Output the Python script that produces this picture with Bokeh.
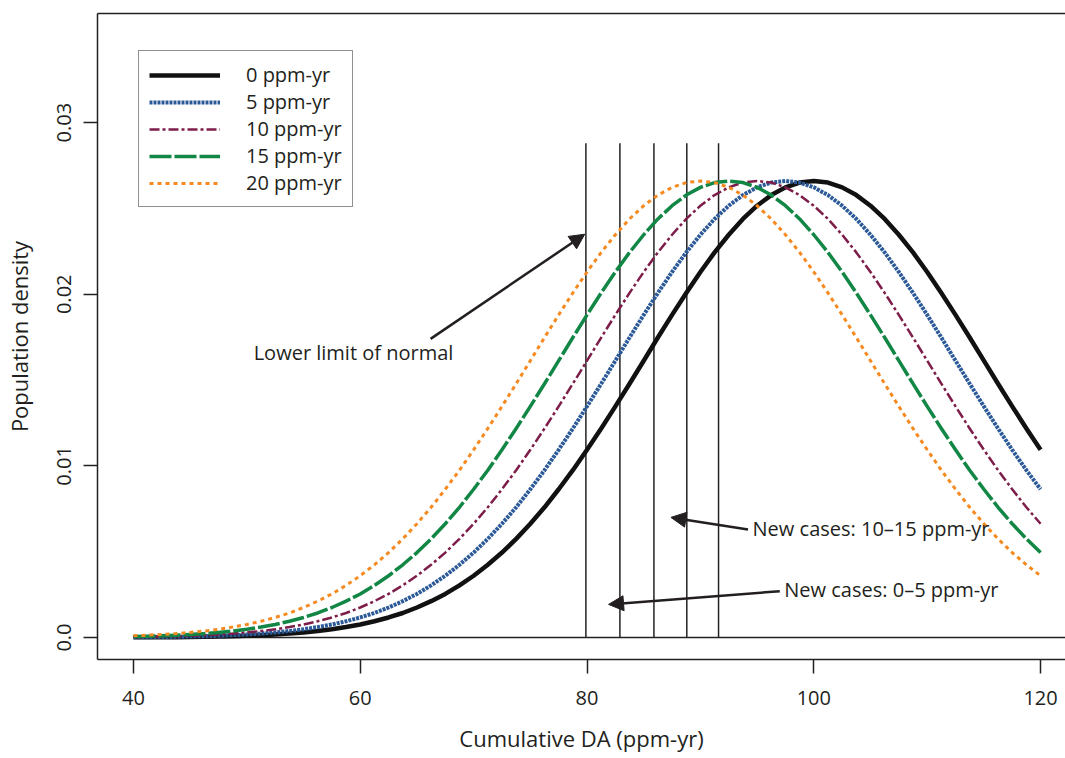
from bokeh.plotting import figure
from bokeh.models import (Range1d, FixedTicker, LinearAxis, Legend, LegendItem,
                          Arrow, NormalHead, Label)
from bokeh.embed import file_html
from bokeh.resources import INLINE

# ---------------- data ----------------
da_x = [40.0, 41.25, 42.5, 43.75, 45.0, 46.25, 47.5, 48.75, 50.0, 51.25, 52.5, 53.75,
        55.0, 56.25, 57.5, 58.75, 60.0, 61.25, 62.5, 63.75, 65.0, 66.25, 67.5, 68.75,
        70.0, 71.25, 72.5, 73.75, 75.0, 76.25, 77.5, 78.75, 80.0, 81.25, 82.5, 83.75,
        85.0, 86.25, 87.5, 88.75, 90.0, 91.25, 92.5, 93.75, 95.0, 96.25, 97.5, 98.75,
        100.0, 101.25, 102.5, 103.75, 105.0, 106.25, 107.5, 108.75, 110.0, 111.25,
        112.5, 113.75, 115.0, 116.25, 117.5, 118.75, 120.0]

dens_0 = [0.00001, 0.00001, 0.00002, 0.00002, 0.00003, 0.00004, 0.00006, 0.00008,
          0.00010, 0.00014, 0.00018, 0.00023, 0.00030, 0.00038, 0.00048, 0.00061,
          0.00076, 0.00095, 0.00117, 0.00143, 0.00175, 0.00212, 0.00254, 0.00304,
          0.00360, 0.00424, 0.00495, 0.00575, 0.00663, 0.00759, 0.00864, 0.00975,
          0.01094, 0.01218, 0.01347, 0.01479, 0.01613, 0.01748, 0.01880, 0.02008,
          0.02130, 0.02244, 0.02347, 0.02439, 0.02516, 0.02578, 0.02623, 0.02651,
          0.02660,
          0.02651, 0.02623, 0.02578, 0.02516, 0.02439, 0.02347, 0.02244, 0.02130,
          0.02008, 0.01880, 0.01748, 0.01613, 0.01479, 0.01347, 0.01218, 0.01094]

dens_5 = [0.00002, 0.00002, 0.00003, 0.00004, 0.00006, 0.00008,
          0.00010, 0.00014, 0.00018, 0.00023, 0.00030, 0.00038, 0.00048, 0.00061,
          0.00076, 0.00095, 0.00117, 0.00143, 0.00175, 0.00212, 0.00254, 0.00304,
          0.00360, 0.00424, 0.00495, 0.00575, 0.00663, 0.00759, 0.00864, 0.00975,
          0.01094, 0.01218, 0.01347, 0.01479, 0.01613, 0.01748, 0.01880, 0.02008,
          0.02130, 0.02244, 0.02347, 0.02439, 0.02516, 0.02578, 0.02623, 0.02651,
          0.02660,
          0.02651, 0.02623, 0.02578, 0.02516, 0.02439, 0.02347, 0.02244, 0.02130,
          0.02008, 0.01880, 0.01748, 0.01613, 0.01479, 0.01347, 0.01218, 0.01094,
          0.00975, 0.00864]

dens_10 = [0.00003, 0.00004, 0.00006, 0.00008,
           0.00010, 0.00014, 0.00018, 0.00023, 0.00030, 0.00038, 0.00048, 0.00061,
           0.00076, 0.00095, 0.00117, 0.00143, 0.00175, 0.00212, 0.00254, 0.00304,
           0.00360, 0.00424, 0.00495, 0.00575, 0.00663, 0.00759, 0.00864, 0.00975,
           0.01094, 0.01218, 0.01347, 0.01479, 0.01613, 0.01748, 0.01880, 0.02008,
           0.02130, 0.02244, 0.02347, 0.02439, 0.02516, 0.02578, 0.02623, 0.02651,
           0.02660,
           0.02651, 0.02623, 0.02578, 0.02516, 0.02439, 0.02347, 0.02244, 0.02130,
           0.02008, 0.01880, 0.01748, 0.01613, 0.01479, 0.01347, 0.01218, 0.01094,
           0.00975, 0.00864, 0.00759, 0.00663]

dens_15 = [0.00006, 0.00008,
           0.00010, 0.00014, 0.00018, 0.00023, 0.00030, 0.00038, 0.00048, 0.00061,
           0.00076, 0.00095, 0.00117, 0.00143, 0.00175, 0.00212, 0.00254, 0.00304,
           0.00360, 0.00424, 0.00495, 0.00575, 0.00663, 0.00759, 0.00864, 0.00975,
           0.01094, 0.01218, 0.01347, 0.01479, 0.01613, 0.01748, 0.01880, 0.02008,
           0.02130, 0.02244, 0.02347, 0.02439, 0.02516, 0.02578, 0.02623, 0.02651,
           0.02660,
           0.02651, 0.02623, 0.02578, 0.02516, 0.02439, 0.02347, 0.02244, 0.02130,
           0.02008, 0.01880, 0.01748, 0.01613, 0.01479, 0.01347, 0.01218, 0.01094,
           0.00975, 0.00864, 0.00759, 0.00663, 0.00575, 0.00495]

dens_20 = [0.00010, 0.00014, 0.00018, 0.00023, 0.00030, 0.00038, 0.00048, 0.00061,
           0.00076, 0.00095, 0.00117, 0.00143, 0.00175, 0.00212, 0.00254, 0.00304,
           0.00360, 0.00424, 0.00495, 0.00575, 0.00663, 0.00759, 0.00864, 0.00975,
           0.01094, 0.01218, 0.01347, 0.01479, 0.01613, 0.01748, 0.01880, 0.02008,
           0.02130, 0.02244, 0.02347, 0.02439, 0.02516, 0.02578, 0.02623, 0.02651,
           0.02660,
           0.02651, 0.02623, 0.02578, 0.02516, 0.02439, 0.02347, 0.02244, 0.02130,
           0.02008, 0.01880, 0.01748, 0.01613, 0.01479, 0.01347, 0.01218, 0.01094,
           0.00975, 0.00864, 0.00759, 0.00663, 0.00575, 0.00495, 0.00424, 0.00360]

series_labels = ["0 ppm-yr", "5 ppm-yr", "10 ppm-yr", "15 ppm-yr", "20 ppm-yr"]

cutoff_x = [79.9, 82.9, 85.9, 88.8, 91.6]
cutoff_top = 0.0288

baseline_x = [40.0, 122.2]

x_ticks = [40, 60, 80, 100, 120]
y_ticks = [0.0, 0.01, 0.02, 0.03]
y_tick_labels = ["0.0", "0.01", "0.02", "0.03"]

ann_lower = {"text": "Lower limit of normal", "x": 50.6, "y": 0.0166,
             "ax0": 66.2, "ay0": 0.0174, "ax1": 79.8, "ay1": 0.0235}
ann_10_15 = {"text": "New cases: 10\u201315 ppm-yr", "x": 94.6, "y": 0.00634,
             "ax0": 94.2, "ay0": 0.0063, "ax1": 87.4, "ay1": 0.0070}
ann_0_5 = {"text": "New cases: 0\u20135 ppm-yr", "x": 97.4, "y": 0.00278,
           "ax0": 97.0, "ay0": 0.0027, "ax1": 81.9, "ay1": 0.00193}

# ---------------- figure ----------------
FONT = "Open Sans"
TXT = "#231f20"
INK = "#222222"

p = figure(width=1065, height=758, output_backend="svg", toolbar_location=None,
           x_range=Range1d(36.825, 122.2), y_range=Range1d(-0.00128, 0.03636),
           min_border_left=97, min_border_right=0, min_border_top=13,
           min_border_bottom=99)
p.outline_line_color = None
p.xgrid.visible = False
p.ygrid.visible = False
p.background_fill_color = "white"
p.border_fill_color = "white"

for ax in (p.xaxis[0], p.yaxis[0]):
    ax.axis_line_color = INK
    ax.axis_line_width = 1.5
    ax.major_tick_line_color = INK
    ax.major_tick_line_width = 1.5
    ax.major_tick_out = 14
    ax.major_tick_in = 0
    ax.minor_tick_line_color = None
    ax.major_label_text_font = FONT
    ax.major_label_text_font_size = "20px"
    ax.major_label_text_color = TXT
    ax.axis_label_text_font = FONT
    ax.axis_label_text_font_size = "22px"
    ax.axis_label_text_font_style = "normal"
    ax.axis_label_text_color = TXT

p.xaxis[0].ticker = FixedTicker(ticks=x_ticks)
p.xaxis[0].major_label_standoff = 17
p.xaxis[0].axis_label = "Cumulative DA (ppm-yr)"
p.xaxis[0].axis_label_standoff = 15

p.yaxis[0].ticker = FixedTicker(ticks=y_ticks)
p.yaxis[0].major_label_overrides = {t: l for t, l in zip(y_ticks, y_tick_labels)}
p.yaxis[0].major_label_orientation = "vertical"
p.yaxis[0].major_label_standoff = 12
p.yaxis[0].axis_label = "Population density"
p.yaxis[0].axis_label_standoff = 21

top_axis = LinearAxis(ticker=FixedTicker(ticks=[]), major_tick_out=0, major_tick_in=0,
                      minor_tick_out=0, minor_tick_in=0,
                      major_label_text_font_size="0px",
                      axis_line_color=INK, axis_line_width=1.5)
p.add_layout(top_axis, "above")

# baseline at zero
p.line(baseline_x, [0, 0], line_color=INK, line_width=1.5)

# cut-off verticals
p.segment(x0=cutoff_x, y0=[0] * len(cutoff_x), x1=cutoff_x, y1=[cutoff_top] * len(cutoff_x),
          line_color=INK, line_width=1.5)

styles = [
    dict(line_color="#111111", line_width=4.5, line_dash="solid"),
    dict(line_color="#2c5a98", line_width=4, line_dash="3 1"),
    dict(line_color="#7d1d49", line_width=2.5, line_dash="10 3 3 3"),
    dict(line_color="#128645", line_width=3.5, line_dash="22 3"),
    dict(line_color="#f6891f", line_width=3, line_dash="4 4"),
]
series = [dens_0, dens_5, dens_10, dens_15, dens_20]

renderers = []
for ys, st in zip(series, styles):
    r = p.line(da_x, ys, line_cap="butt", line_join="round", **st)
    renderers.append(r)

legend = Legend(items=[LegendItem(label=l, renderers=[r]) for l, r in zip(series_labels, renderers)],
                location=(41, 452), padding=10, spacing=0, glyph_width=71, glyph_height=26,
                label_height=26, label_standoff=26, label_text_font=FONT,
                label_text_font_size="20px", label_text_color=TXT,
                border_line_color=INK, border_line_width=1.5,
                background_fill_color="white", background_fill_alpha=1.0, margin=0)
p.add_layout(legend, "center")

for a in (ann_lower, ann_10_15, ann_0_5):
    p.add_layout(Arrow(end=NormalHead(size=15, fill_color=TXT, line_color=TXT),
                       x_start=a["ax0"], y_start=a["ay0"], x_end=a["ax1"], y_end=a["ay1"],
                       line_color=TXT, line_width=2.5))
    p.add_layout(Label(x=a["x"], y=a["y"], text=a["text"], text_font=FONT,
                       text_font_size="20px", text_color=TXT, text_baseline="alphabetic",
                       text_align="left"))

open("out.html", "w").write(file_html(p, INLINE))
